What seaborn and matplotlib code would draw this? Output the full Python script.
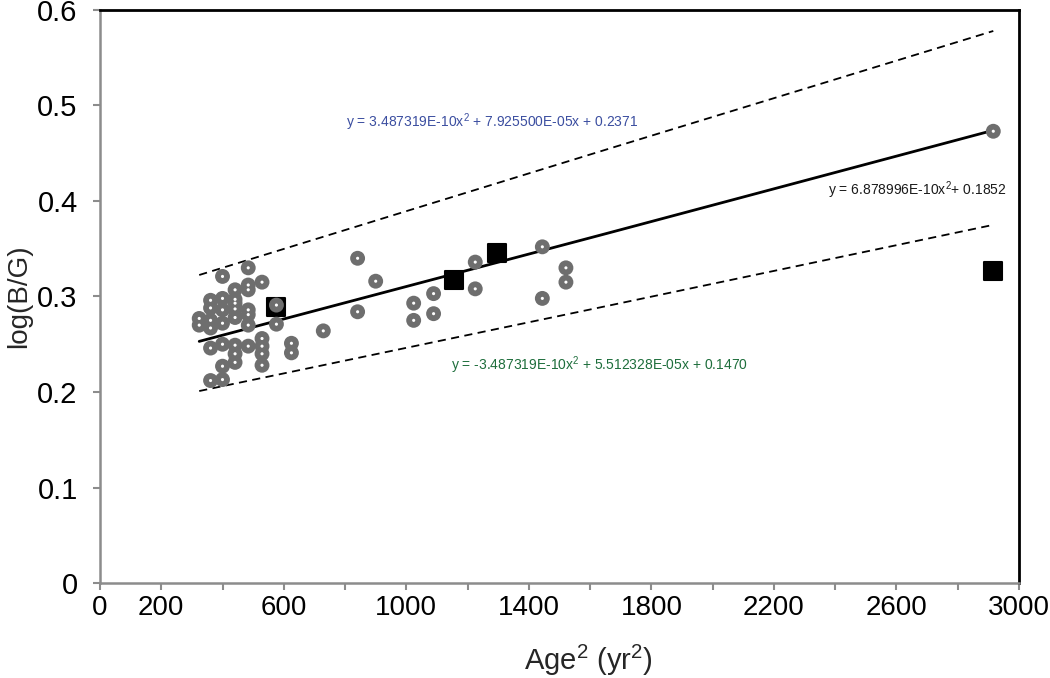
import matplotlib
matplotlib.use("Agg")
import matplotlib.pyplot as plt
import numpy as np
import pandas as pd
import seaborn as sns

# data (x = Age^2, y = log(B/G))
pts_x = [324, 324,
         361, 361, 361, 361, 361, 361,
         400, 400, 400, 400, 400, 400, 400,
         441, 441, 441, 441, 441, 441, 441, 441,
         484, 484, 484, 484, 484, 484, 484,
         529, 529, 529, 529, 529,
         576, 576,
         625, 625,
         729, 841, 841, 900, 1024, 1024, 1089, 1089,
         1225, 1225, 1444, 1444, 1521, 1521, 2916]
pts_y = [0.277, 0.270,
         0.296, 0.288, 0.275, 0.267, 0.246, 0.212,
         0.321, 0.298, 0.286, 0.272, 0.250, 0.227, 0.213,
         0.307, 0.297, 0.287, 0.278, 0.293, 0.249, 0.240, 0.231,
         0.330, 0.312, 0.307, 0.286, 0.281, 0.270, 0.248,
         0.315, 0.256, 0.248, 0.240, 0.228,
         0.291, 0.271,
         0.251, 0.241,
         0.264, 0.340, 0.284, 0.316, 0.293, 0.275, 0.303, 0.282,
         0.336, 0.308, 0.352, 0.298, 0.330, 0.315, 0.473]

sq_x = [576, 1156, 1296, 2916]
sq_y = [0.289, 0.317, 0.346, 0.327]

line_x = [324, 1654, 2916]
fit_y = [0.253, 0.366, 0.474]
upper_y = [0.3225, 0.454, 0.578]
lower_y = [0.201, 0.290, 0.375]

eq_upper = "y = 3.487319E-10x$^{2}$ + 7.925500E-05x + 0.2371"
eq_fit = "y = 6.878996E-10x$^{2}$+ 0.1852"
eq_lower = "y = -3.487319E-10x$^{2}$ + 5.512328E-05x + 0.1470"

xtick_vals = list(range(0, 3001, 200))
xtick_labels = [str(v) if (v == 0 or (v - 200) % 400 == 0) else "" for v in xtick_vals]

sns.set_style("white")
plt.rcParams['font.family'] = ['Liberation Sans', 'DejaVu Sans']
plt.rcParams['mathtext.fontset'] = 'custom'
plt.rcParams['mathtext.rm'] = 'Liberation Sans'
plt.rcParams['mathtext.it'] = 'Liberation Sans'
plt.rcParams['mathtext.default'] = 'regular'

fig, ax = plt.subplots(figsize=(10.5, 6.78), dpi=100)
fig.subplots_adjust(left=0.0952, right=0.9705, top=0.9853, bottom=0.1401)

lines = pd.DataFrame({"x": line_x, "fit": fit_y, "up": upper_y, "lo": lower_y})
sns.lineplot(data=lines, x="x", y="up", ax=ax, color="black", lw=1.3, zorder=2)
ax.lines[-1].set_dashes((4.5, 3))
sns.lineplot(data=lines, x="x", y="lo", ax=ax, color="black", lw=1.3, zorder=2)
ax.lines[-1].set_dashes((4.5, 3))
sns.lineplot(data=lines, x="x", y="fit", ax=ax, color="black", lw=2.0, zorder=3)

sns.scatterplot(x=sq_x, y=sq_y, ax=ax, marker="s", s=150, color="black",
                edgecolor="black", linewidth=1.5, zorder=4)
sns.scatterplot(x=pts_x, y=pts_y, ax=ax, s=115, color="#6e6e6e",
                edgecolor="none", zorder=5)
sns.scatterplot(x=pts_x, y=pts_y, ax=ax, s=5, color="white",
                edgecolor="none", zorder=6)

ax.text(1280, 0.483, eq_upper, color="#3b4ea0", fontsize=10, ha="center", va="center")
ax.text(2958, 0.4115, eq_fit, color="#1a1a1a", fontsize=10, ha="right", va="center")
ax.text(1632, 0.228, eq_lower, color="#1e6e3c", fontsize=10, ha="center", va="center")

ax.set_xlim(0, 3000)
ax.set_ylim(0, 0.6)
ax.set_xticks(xtick_vals)
ax.set_xticklabels(xtick_labels)
ax.set_yticks([0, 0.1, 0.2, 0.3, 0.4, 0.5, 0.6])
ax.set_yticklabels(["0", "0.1", "0.2", "0.3", "0.4", "0.5", "0.6"])
ax.tick_params(axis="both", direction="out", length=5, width=1.5, color="#8c8c8c",
               labelsize=20, labelcolor="black", bottom=True, left=True)
ax.tick_params(axis="y", labelsize=21, pad=11)

ax.set_xlabel("Age$^{2}$ (yr$^{2}$)", fontsize=21)
ax.xaxis.set_label_coords(0.531, -0.105)
ax.set_ylabel("log(B/G)", fontsize=20)
ax.yaxis.set_label_coords(-0.074, 0.5)

for side in ["left", "bottom"]:
    ax.spines[side].set_color("#8c8c8c")
    ax.spines[side].set_linewidth(1.8)
for side in ["top", "right"]:
    ax.spines[side].set_color("black")
    ax.spines[side].set_linewidth(2.0)

fig.savefig("out.png", dpi=100)
